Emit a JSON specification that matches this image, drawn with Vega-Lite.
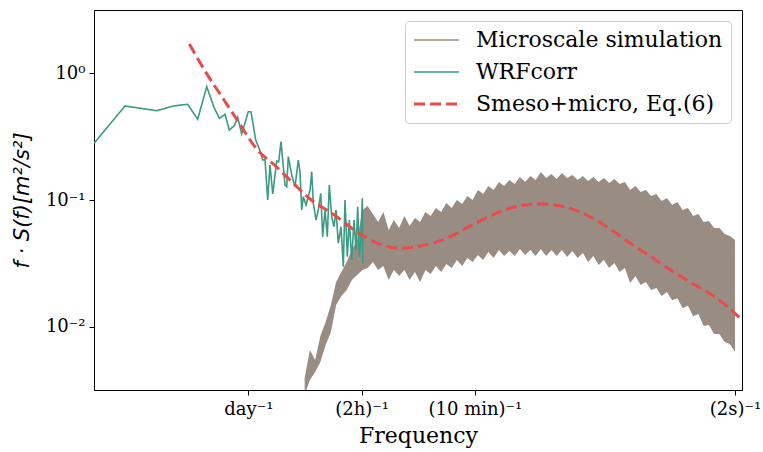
{
  "$schema": "https://vega.github.io/schema/vega-lite/v6.json",
  "width": 648,
  "height": 380,
  "autosize": {"type": "none"},
  "padding": {"left": 94, "top": 10, "right": 21, "bottom": 62},
  "background": "white",
  "config": {
    "view": {"stroke": "#000000", "strokeWidth": 1},
    "axis": {
      "grid": false,
      "domainColor": "#000000",
      "tickColor": "#000000",
      "tickSize": 5,
      "labelFont": "DejaVu Serif",
      "labelFontSize": 18,
      "labelColor": "#000000",
      "titleColor": "#000000",
      "titleFontWeight": "normal",
      "labelOverlap": false,
      "labelBound": false
    },
    "legend": {
      "orient": "top-right",
      "offset": 11,
      "padding": 8,
      "fillColor": "#ffffff",
      "strokeColor": "#cccccc",
      "cornerRadius": 4,
      "symbolType": "M-1,0H3.5",
      "symbolSize": 400,
      "symbolStrokeWidth": 2,
      "labelFont": "DejaVu Serif",
      "labelFontSize": 22,
      "labelColor": "#000000",
      "labelOffset": 41,
      "rowPadding": 10,
      "labelLimit": 400
    }
  },
  "encoding": {
    "x": {
      "field": "f",
      "type": "quantitative",
      "scale": {"type": "log", "domain": [3.926e-7, 0.5826], "nice": false},
      "axis": {
        "values": [1.1574e-5, 1.3889e-4, 1.6667e-3, 0.5],
        "labelExpr": "datum.value < 5e-5 ? 'day⁻¹' : datum.value < 1e-3 ? '(2h)⁻¹' : datum.value < 0.01 ? '(10 min)⁻¹' : '(2s)⁻¹'",
        "labelPadding": 5,
        "title": "Frequency",
        "titleFont": "DejaVu Serif",
        "titleFontSize": 22,
        "titlePadding": 7
      }
    },
    "y": {
      "field": "v",
      "type": "quantitative",
      "scale": {"type": "log", "domain": [0.0031623, 3.1623], "nice": false},
      "axis": {
        "values": [0.01, 0.1, 1],
        "labelExpr": "datum.value >= 0.5 ? '10⁰' : datum.value >= 0.05 ? '10⁻¹' : '10⁻²'",
        "labelPadding": 4,
        "title": "f · S(f)[m²/s²]",
        "titleFont": "DejaVu Sans",
        "titleFontStyle": "italic",
        "titleFontSize": 21,
        "titlePadding": 13
      }
    },
    "color": {
      "field": "s",
      "type": "nominal",
      "scale": {
        "domain": ["Microscale simulation", "WRFcorr", "Smeso+micro, Eq.(6)"],
        "range": ["#988c83", "#3a9a83", "#e94b4b"]
      },
      "legend": {
        "title": null,
        "encode": {"symbols": {"update": {"strokeWidth": {"signal": "datum.value === 'Smeso+micro, Eq.(6)' ? 3 : 1.6"}}}}
      }
    }
  },
  "layer": [
    {
      "data": {"values": [
        {"s":"Microscale simulation","f":3.981e-5,"v":0.00393,"lo":0.00289},
        {"s":"Microscale simulation","f":4.467e-5,"v":0.00654,"lo":0.00379},
        {"s":"Microscale simulation","f":5.012e-5,"v":0.00546,"lo":0.00439},
        {"s":"Microscale simulation","f":5.623e-5,"v":0.00844,"lo":0.00526},
        {"s":"Microscale simulation","f":6.310e-5,"v":0.0109,"lo":0.00716},
        {"s":"Microscale simulation","f":7.079e-5,"v":0.0148,"lo":0.00907},
        {"s":"Microscale simulation","f":7.943e-5,"v":0.0225,"lo":0.0148},
        {"s":"Microscale simulation","f":8.913e-5,"v":0.0270,"lo":0.0175},
        {"s":"Microscale simulation","f":1.000e-4,"v":0.0324,"lo":0.0195},
        {"s":"Microscale simulation","f":1.122e-4,"v":0.0403,"lo":0.0234},
        {"s":"Microscale simulation","f":1.259e-4,"v":0.0483,"lo":0.0256},
        {"s":"Microscale simulation","f":1.413e-4,"v":0.0834,"lo":0.0280},
        {"s":"Microscale simulation","f":1.585e-4,"v":0.0897,"lo":0.0291},
        {"s":"Microscale simulation","f":1.778e-4,"v":0.0775,"lo":0.0324},
        {"s":"Microscale simulation","f":1.995e-4,"v":0.0670,"lo":0.0280},
        {"s":"Microscale simulation","f":2.239e-4,"v":0.0804,"lo":0.0301},
        {"s":"Microscale simulation","f":2.512e-4,"v":0.0580,"lo":0.0234},
        {"s":"Microscale simulation","f":2.818e-4,"v":0.0695,"lo":0.0280},
        {"s":"Microscale simulation","f":3.162e-4,"v":0.0601,"lo":0.0251},
        {"s":"Microscale simulation","f":3.548e-4,"v":0.0747,"lo":0.0280},
        {"s":"Microscale simulation","f":3.981e-4,"v":0.0623,"lo":0.0234},
        {"s":"Microscale simulation","f":4.467e-4,"v":0.0721,"lo":0.0270},
        {"s":"Microscale simulation","f":5.012e-4,"v":0.0670,"lo":0.0225},
        {"s":"Microscale simulation","f":5.623e-4,"v":0.0804,"lo":0.0280},
        {"s":"Microscale simulation","f":6.310e-4,"v":0.0747,"lo":0.0260},
        {"s":"Microscale simulation","f":7.079e-4,"v":0.0865,"lo":0.0301},
        {"s":"Microscale simulation","f":7.943e-4,"v":0.0804,"lo":0.0270},
        {"s":"Microscale simulation","f":8.913e-4,"v":0.0947,"lo":0.0312},
        {"s":"Microscale simulation","f":1.000e-3,"v":0.0865,"lo":0.0291},
        {"s":"Microscale simulation","f":1.122e-3,"v":0.1000,"lo":0.0336},
        {"s":"Microscale simulation","f":1.259e-3,"v":0.0930,"lo":0.0301},
        {"s":"Microscale simulation","f":1.413e-3,"v":0.1075,"lo":0.0348},
        {"s":"Microscale simulation","f":1.585e-3,"v":0.1000,"lo":0.0324},
        {"s":"Microscale simulation","f":1.778e-3,"v":0.1199,"lo":0.0368},
        {"s":"Microscale simulation","f":1.995e-3,"v":0.1115,"lo":0.0336},
        {"s":"Microscale simulation","f":2.239e-3,"v":0.1290,"lo":0.0389},
        {"s":"Microscale simulation","f":2.512e-3,"v":0.1199,"lo":0.0348},
        {"s":"Microscale simulation","f":2.818e-3,"v":0.1387,"lo":0.0403},
        {"s":"Microscale simulation","f":3.162e-3,"v":0.1290,"lo":0.0361},
        {"s":"Microscale simulation","f":3.548e-3,"v":0.1439,"lo":0.0396},
        {"s":"Microscale simulation","f":3.981e-3,"v":0.1338,"lo":0.0361},
        {"s":"Microscale simulation","f":4.467e-3,"v":0.1519,"lo":0.0410},
        {"s":"Microscale simulation","f":5.012e-3,"v":0.1387,"lo":0.0368},
        {"s":"Microscale simulation","f":5.623e-3,"v":0.1547,"lo":0.0403},
        {"s":"Microscale simulation","f":6.310e-3,"v":0.1439,"lo":0.0361},
        {"s":"Microscale simulation","f":7.079e-3,"v":0.1664,"lo":0.0410},
        {"s":"Microscale simulation","f":7.943e-3,"v":0.1492,"lo":0.0361},
        {"s":"Microscale simulation","f":8.913e-3,"v":0.1605,"lo":0.0403},
        {"s":"Microscale simulation","f":1.000e-2,"v":0.1465,"lo":0.0361},
        {"s":"Microscale simulation","f":1.122e-2,"v":0.1634,"lo":0.0403},
        {"s":"Microscale simulation","f":1.259e-2,"v":0.1492,"lo":0.0355},
        {"s":"Microscale simulation","f":1.413e-2,"v":0.1576,"lo":0.0396},
        {"s":"Microscale simulation","f":1.585e-2,"v":0.1439,"lo":0.0348},
        {"s":"Microscale simulation","f":1.778e-2,"v":0.1547,"lo":0.0382},
        {"s":"Microscale simulation","f":1.995e-2,"v":0.1413,"lo":0.0324},
        {"s":"Microscale simulation","f":2.239e-2,"v":0.1519,"lo":0.0361},
        {"s":"Microscale simulation","f":2.512e-2,"v":0.1387,"lo":0.0307},
        {"s":"Microscale simulation","f":2.818e-2,"v":0.1492,"lo":0.0336},
        {"s":"Microscale simulation","f":3.162e-2,"v":0.1362,"lo":0.0291},
        {"s":"Microscale simulation","f":3.548e-2,"v":0.1465,"lo":0.0318},
        {"s":"Microscale simulation","f":3.981e-2,"v":0.1338,"lo":0.0270},
        {"s":"Microscale simulation","f":4.467e-2,"v":0.1387,"lo":0.0291},
        {"s":"Microscale simulation","f":5.012e-2,"v":0.1199,"lo":0.0221},
        {"s":"Microscale simulation","f":5.623e-2,"v":0.1290,"lo":0.0251},
        {"s":"Microscale simulation","f":6.310e-2,"v":0.1157,"lo":0.0213},
        {"s":"Microscale simulation","f":7.079e-2,"v":0.1199,"lo":0.0225},
        {"s":"Microscale simulation","f":7.943e-2,"v":0.1075,"lo":0.0195},
        {"s":"Microscale simulation","f":8.913e-2,"v":0.1115,"lo":0.0202},
        {"s":"Microscale simulation","f":0.1000,"v":0.0982,"lo":0.0175},
        {"s":"Microscale simulation","f":0.1122,"v":0.1037,"lo":0.0188},
        {"s":"Microscale simulation","f":0.1259,"v":0.0913,"lo":0.0162},
        {"s":"Microscale simulation","f":0.1413,"v":0.0964,"lo":0.0168},
        {"s":"Microscale simulation","f":0.1585,"v":0.0834,"lo":0.0140},
        {"s":"Microscale simulation","f":0.1778,"v":0.0865,"lo":0.0146},
        {"s":"Microscale simulation","f":0.1995,"v":0.0747,"lo":0.0121},
        {"s":"Microscale simulation","f":0.2239,"v":0.0775,"lo":0.0126},
        {"s":"Microscale simulation","f":0.2512,"v":0.0670,"lo":0.0101},
        {"s":"Microscale simulation","f":0.2818,"v":0.0683,"lo":0.0103},
        {"s":"Microscale simulation","f":0.3162,"v":0.0601,"lo":0.00875},
        {"s":"Microscale simulation","f":0.3548,"v":0.0601,"lo":0.00875},
        {"s":"Microscale simulation","f":0.3981,"v":0.0539,"lo":0.00757},
        {"s":"Microscale simulation","f":0.4467,"v":0.0520,"lo":0.00729},
        {"s":"Microscale simulation","f":0.5000,"v":0.0483,"lo":0.00631}
      ]},
      "mark": {"type": "area", "clip": true, "opacity": 1, "interpolate": "linear"},
      "encoding": {"y2": {"field": "lo"}}
    },
    {
      "data": {"values": [
        {"s":"WRFcorr","f":3.926e-7,"v":0.2803},
        {"s":"WRFcorr","f":7.748e-7,"v":0.5523},
        {"s":"WRFcorr","f":1.553e-6,"v":0.507},
        {"s":"WRFcorr","f":2.235e-6,"v":0.5523},
        {"s":"WRFcorr","f":3.065e-6,"v":0.5696},
        {"s":"WRFcorr","f":3.816e-6,"v":0.4337},
        {"s":"WRFcorr","f":4.648e-6,"v":0.7844},
        {"s":"WRFcorr","f":5.457e-6,"v":0.5394},
        {"s":"WRFcorr","f":6.13e-6,"v":0.4416},
        {"s":"WRFcorr","f":6.944e-6,"v":0.4749},
        {"s":"WRFcorr","f":7.63e-6,"v":0.357},
        {"s":"WRFcorr","f":8.516e-6,"v":0.386},
        {"s":"WRFcorr","f":9.175e-6,"v":0.4497},
        {"s":"WRFcorr","f":1.0016e-5,"v":0.332},
        {"s":"WRFcorr","f":1.157e-5,"v":0.498},
        {"s":"WRFcorr","f":1.228e-5,"v":0.498},
        {"s":"WRFcorr","f":1.361e-5,"v":0.2976},
        {"s":"WRFcorr","f":1.496e-5,"v":0.245},
        {"s":"WRFcorr","f":1.587e-5,"v":0.207},
        {"s":"WRFcorr","f":1.669e-5,"v":0.2096},
        {"s":"WRFcorr","f":1.771e-5,"v":0.1},
        {"s":"WRFcorr","f":1.863e-5,"v":0.1889},
        {"s":"WRFcorr","f":1.977e-5,"v":0.1115},
        {"s":"WRFcorr","f":2.158e-5,"v":0.2032},
        {"s":"WRFcorr","f":2.254e-5,"v":0.2006},
        {"s":"WRFcorr","f":2.371e-5,"v":0.2886},
        {"s":"WRFcorr","f":2.588e-5,"v":0.1313},
        {"s":"WRFcorr","f":2.687e-5,"v":0.1274},
        {"s":"WRFcorr","f":2.783e-5,"v":0.2197},
        {"s":"WRFcorr","f":2.999e-5,"v":0.1576},
        {"s":"WRFcorr","f":3.224e-5,"v":0.1274},
        {"s":"WRFcorr","f":3.465e-5,"v":0.207},
        {"s":"WRFcorr","f":3.597e-5,"v":0.1673},
        {"s":"WRFcorr","f":3.733e-5,"v":0.0834},
        {"s":"WRFcorr","f":3.866e-5,"v":0.1062},
        {"s":"WRFcorr","f":4.102e-5,"v":0.0913},
        {"s":"WRFcorr","f":4.479e-5,"v":0.1199},
        {"s":"WRFcorr","f":4.648e-5,"v":0.1673},
        {"s":"WRFcorr","f":4.815e-5,"v":0.0942},
        {"s":"WRFcorr","f":5.108e-5,"v":0.0695},
        {"s":"WRFcorr","f":5.372e-5,"v":0.0834},
        {"s":"WRFcorr","f":5.662e-5,"v":0.1129},
        {"s":"WRFcorr","f":5.916e-5,"v":0.0513},
        {"s":"WRFcorr","f":6.223e-5,"v":0.0834},
        {"s":"WRFcorr","f":6.545e-5,"v":0.0513},
        {"s":"WRFcorr","f":6.839e-5,"v":0.1313},
        {"s":"WRFcorr","f":7.207e-5,"v":0.0738},
        {"s":"WRFcorr","f":7.58e-5,"v":0.0615},
        {"s":"WRFcorr","f":7.92e-5,"v":0.0834},
        {"s":"WRFcorr","f":8.33e-5,"v":0.0455},
        {"s":"WRFcorr","f":8.84e-5,"v":0.0615},
        {"s":"WRFcorr","f":9.296e-5,"v":0.0297},
        {"s":"WRFcorr","f":9.65e-5,"v":0.1},
        {"s":"WRFcorr","f":1.015e-4,"v":0.0357},
        {"s":"WRFcorr","f":1.06e-4,"v":0.0695},
        {"s":"WRFcorr","f":1.118e-4,"v":0.0336},
        {"s":"WRFcorr","f":1.175e-4,"v":0.0695},
        {"s":"WRFcorr","f":1.228e-4,"v":0.0403},
        {"s":"WRFcorr","f":1.275e-4,"v":0.0886},
        {"s":"WRFcorr","f":1.32e-4,"v":0.0357},
        {"s":"WRFcorr","f":1.37e-4,"v":0.0513},
        {"s":"WRFcorr","f":1.41e-4,"v":0.1031},
        {"s":"WRFcorr","f":1.426e-4,"v":0.0316}
      ]},
      "mark": {"type": "line", "clip": true, "strokeWidth": 1.6},
      "encoding": {
        "strokeDash": {
          "field": "s", "type": "nominal",
          "scale": {"domain": ["Microscale simulation", "WRFcorr", "Smeso+micro, Eq.(6)"], "range": [[1,0],[1,0],[11,5]]},
          "legend": {"title": null}
        }
      }
    },
    {
      "data": {"values": [
        {"s":"Smeso+micro, Eq.(6)","f":3.174e-6,"v":1.704},
        {"s":"Smeso+micro, Eq.(6)","f":4.648e-6,"v":0.9945},
        {"s":"Smeso+micro, Eq.(6)","f":6.501e-6,"v":0.6505},
        {"s":"Smeso+micro, Eq.(6)","f":8.974e-6,"v":0.4337},
        {"s":"Smeso+micro, Eq.(6)","f":1.391e-5,"v":0.2527},
        {"s":"Smeso+micro, Eq.(6)","f":2.158e-5,"v":0.1822},
        {"s":"Smeso+micro, Eq.(6)","f":2.888e-5,"v":0.1439},
        {"s":"Smeso+micro, Eq.(6)","f":4.479e-5,"v":0.1018},
        {"s":"Smeso+micro, Eq.(6)","f":7.416e-5,"v":0.0775},
        {"s":"Smeso+micro, Eq.(6)","f":1.341e-4,"v":0.0539},
        {"s":"Smeso+micro, Eq.(6)","f":2.078e-4,"v":0.0449},
        {"s":"Smeso+micro, Eq.(6)","f":3.224e-4,"v":0.0416},
        {"s":"Smeso+micro, Eq.(6)","f":4.997e-4,"v":0.0433},
        {"s":"Smeso+micro, Eq.(6)","f":8.974e-4,"v":0.0499},
        {"s":"Smeso+micro, Eq.(6)","f":1.496e-3,"v":0.0623},
        {"s":"Smeso+micro, Eq.(6)","f":2.319e-3,"v":0.0747},
        {"s":"Smeso+micro, Eq.(6)","f":3.866e-3,"v":0.0876},
        {"s":"Smeso+micro, Eq.(6)","f":6.944e-3,"v":0.0930},
        {"s":"Smeso+micro, Eq.(6)","f":1.077e-2,"v":0.0902},
        {"s":"Smeso+micro, Eq.(6)","f":2.078e-2,"v":0.0738},
        {"s":"Smeso+micro, Eq.(6)","f":3.443e-2,"v":0.0569},
        {"s":"Smeso+micro, Eq.(6)","f":5.337e-2,"v":0.0441},
        {"s":"Smeso+micro, Eq.(6)","f":8.278e-2,"v":0.0348},
        {"s":"Smeso+micro, Eq.(6)","f":0.1283,"v":0.0272},
        {"s":"Smeso+micro, Eq.(6)","f":0.2078,"v":0.0213},
        {"s":"Smeso+micro, Eq.(6)","f":0.3368,"v":0.01674},
        {"s":"Smeso+micro, Eq.(6)","f":0.5826,"v":0.0113}
      ]},
      "mark": {"type": "line", "clip": true, "strokeWidth": 3, "interpolate": "monotone"},
      "encoding": {
        "strokeDash": {
          "field": "s", "type": "nominal",
          "scale": {"domain": ["Microscale simulation", "WRFcorr", "Smeso+micro, Eq.(6)"], "range": [[1,0],[1,0],[11,5]]},
          "legend": {"title": null}
        }
      }
    }
  ]
}
